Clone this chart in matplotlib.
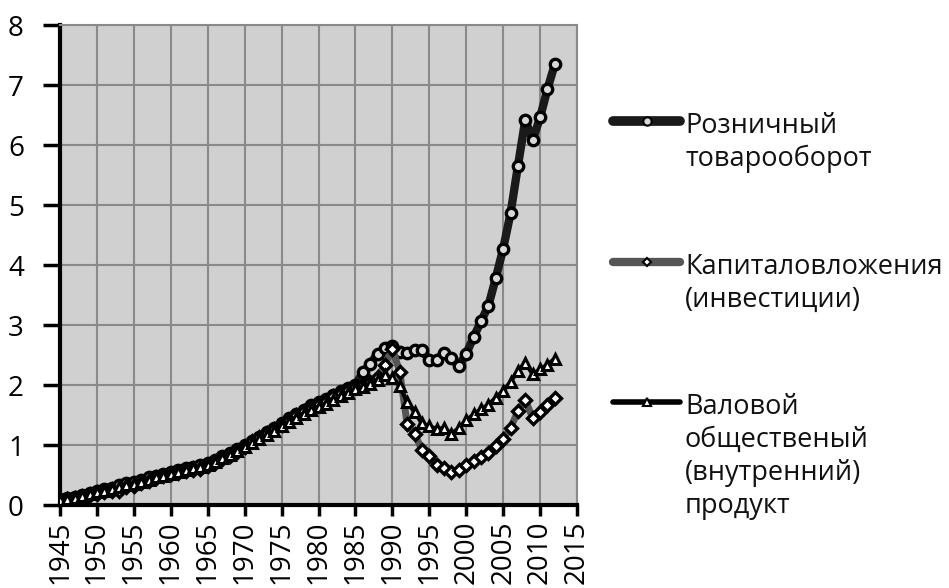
import numpy as np
import matplotlib.pyplot as plt
from matplotlib.lines import Line2D

# годы
years = np.arange(1945, 2013)

# Розничный товарооборот
retail = [0.10, 0.12, 0.14, 0.17, 0.20, 0.23, 0.26, 0.29, 0.33, 0.37,
          0.39, 0.42, 0.46, 0.49, 0.52, 0.55, 0.58, 0.61, 0.63, 0.66,
          0.70, 0.75, 0.81, 0.87, 0.93, 1.00, 1.07, 1.14, 1.21, 1.29,
          1.37, 1.45, 1.52, 1.59, 1.66, 1.71, 1.77, 1.83, 1.90, 1.95,
          2.00, 2.21, 2.35, 2.52, 2.62, 2.65, 2.55, 2.53, 2.58, 2.58,
          2.42, 2.42, 2.54, 2.45, 2.32, 2.52, 2.80, 3.06, 3.32, 3.78,
          4.27, 4.86, 5.65, 6.42, 6.08, 6.46, 6.93, 7.35]

# Капиталовложения (инвестиции)
invest = [0.08, 0.10, 0.12, 0.14, 0.16, 0.19, 0.21, 0.23, 0.24, 0.30,
          0.32, 0.36, 0.40, 0.45, 0.49, 0.51, 0.53, 0.56, 0.58, 0.60,
          0.65, 0.70, 0.76, 0.82, 0.89, 0.97, 1.06, 1.14, 1.20, 1.27,
          1.34, 1.42, 1.50, 1.56, 1.62, 1.68, 1.74, 1.81, 1.87, 1.92,
          1.96, 2.00, 2.05, 2.13, 2.34, 2.60, 2.22, 1.35, 1.19, 0.92,
          0.82, 0.66, 0.62, 0.55, 0.58, 0.67, 0.74, 0.80, 0.86, 0.98,
          1.10, 1.28, 1.57, 1.75, 1.45, 1.55, 1.66, 1.78]

# Валовой общественый (внутренний) продукт
gdp = [0.08, 0.10, 0.12, 0.15, 0.18, 0.21, 0.24, 0.27, 0.30, 0.33,
       0.35, 0.38, 0.42, 0.46, 0.49, 0.52, 0.55, 0.58, 0.61, 0.64,
       0.67, 0.72, 0.78, 0.84, 0.90, 0.96, 1.04, 1.10, 1.17, 1.24,
       1.31, 1.38, 1.45, 1.52, 1.58, 1.63, 1.69, 1.75, 1.81, 1.87,
       1.93, 1.97, 2.02, 2.09, 2.16, 2.12, 1.98, 1.71, 1.55, 1.36,
       1.31, 1.27, 1.28, 1.19, 1.28, 1.41, 1.51, 1.60, 1.67, 1.79,
       1.90, 2.05, 2.24, 2.37, 2.18, 2.26, 2.34, 2.44]

labels = ["Розничный\nтоварооборот",
          "Капиталовложения\n(инвестиции)",
          "Валовой\nобщественый\n(внутренний)\nпродукт"]

plt.rcParams['font.family'] = ['Open Sans', 'DejaVu Sans']

W, H = 949, 588
fig = plt.figure(figsize=(W / 100, H / 100), dpi=100)
ax = fig.add_axes([60 / W, 1 - 505 / H, (577 - 60) / W, (505 - 25) / H])
ax.set_facecolor('#d0d0d0')

styles = [
    dict(color='#1a1a1a', lw=6, marker='o', ms=7.5, mfc='#d8d8d8', mec='black', mew=2.4),
    dict(color='#555555', lw=5, marker='D', ms=6, mfc='white', mec='black', mew=2.4),
    dict(color='black', lw=3, marker='^', ms=7, mfc='white', mec='black', mew=2.2),
]
series = [retail, invest, gdp]

for vals, st in zip(series, styles):
    ax.plot(years, vals, zorder=3, **st)

ax.set_xlim(1945, 2015)
ax.set_ylim(0, 8)
ax.set_xticks(np.arange(1945, 2016, 5))
ax.set_yticks(np.arange(0, 9, 1))
ax.tick_params(axis='x', labelrotation=90, labelsize=20, direction='out',
               length=8, width=2.5, pad=3)
ax.tick_params(axis='y', labelsize=20, direction='out', length=12, width=2.5, pad=14)
ax.grid(True, color='#8a8a8a', lw=1.5)
ax.set_axisbelow(True)
for s in ['left', 'bottom']:
    ax.spines[s].set_linewidth(3)
    ax.spines[s].set_color('black')
for s in ['top', 'right']:
    ax.spines[s].set_linewidth(1.5)
    ax.spines[s].set_color('#8a8a8a')

# легенда справа
entry_y = [121, 262, 402]
for y, lab, st in zip(entry_y, labels, styles):
    fy = 1 - y / H
    fig.add_artist(Line2D([613 / W, 680 / W], [fy, fy], transform=fig.transFigure,
                          color=st['color'], lw=st['lw'] + 1, solid_capstyle='round'))
    fig.add_artist(Line2D([646.5 / W], [fy], transform=fig.transFigure,
                          marker=st['marker'], ms=st['ms'] - 1.5, mfc=st['mfc'],
                          mec=st['mec'], mew=1.5, ls='none'))
    fig.text(685 / W, 1 - (y - 9) / H, lab, fontsize=19.5, va='top', ha='left',
             linespacing=1.24, color='#111111')

fig.savefig('out.png', dpi=100)
